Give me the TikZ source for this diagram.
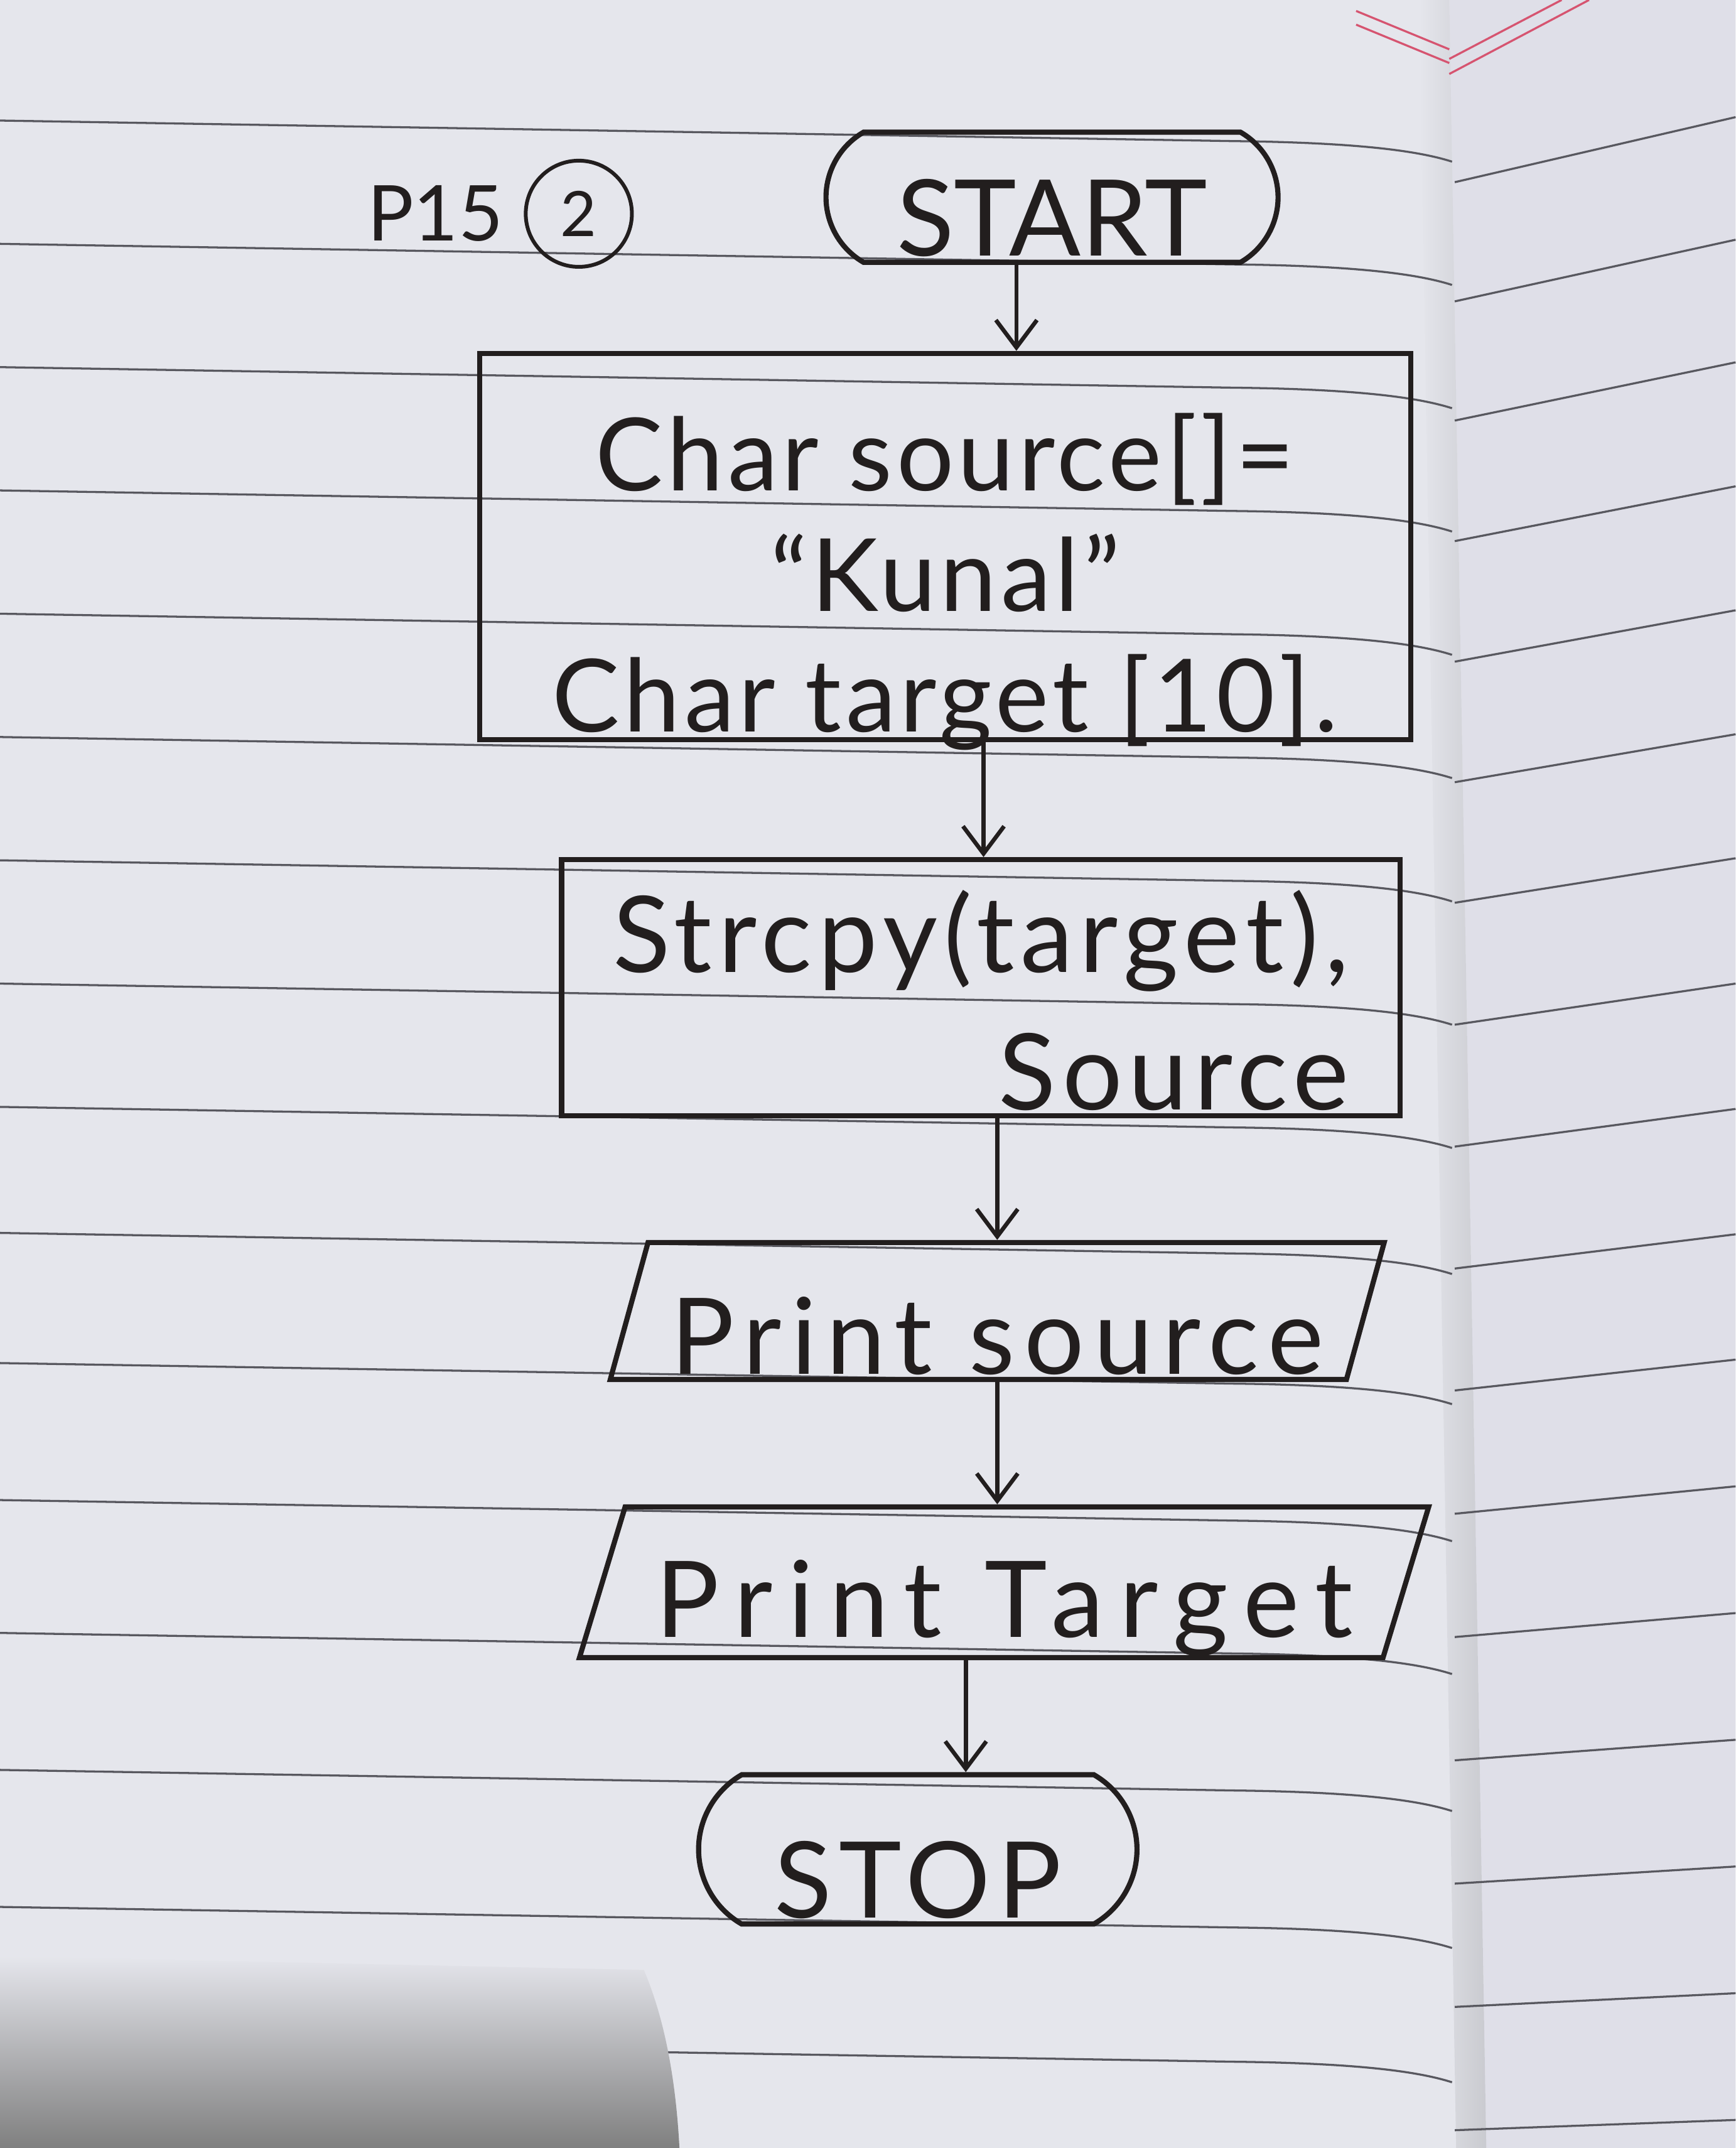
\documentclass[tikz,border=0pt]{standalone}
\usepackage{fontspec}
\setmainfont{Lato}
\usetikzlibrary{arrows.meta,shapes,positioning}
\definecolor{paper}{RGB}{229,230,236}
\definecolor{paperR}{RGB}{223,223,232}
\definecolor{rulegray}{RGB}{88,88,95}
\definecolor{ink}{RGB}{34,30,30}
\definecolor{marginred}{RGB}{214,84,112}
\newcommand{\handfont}[2]{\fontsize{#1}{50}\selectfont\addfontfeatures{LetterSpace=#2}}
\tikzset{
  pen/.style={draw=ink, line width=0.75mm, text=ink},
  term/.style={pen, rounded rectangle, rounded rectangle arc length=120, inner sep=0.5mm,
    font=\handfont{44}{0}},
  proc/.style={pen, rectangle, inner sep=0.5mm, align=center, font=\handfont{42}{4}},
  io/.style={pen, trapezium, trapezium left angle=75, trapezium right angle=105,
    trapezium stretches=true, inner sep=0.5mm, font=\handfont{44}{9}},
  flow/.style={draw=ink, line width=0.6mm, -{Straight Barb[length=4mm,width=6mm]}},
  ruled/.style={draw=rulegray, line width=0.3mm},
  redline/.style={draw=marginred, line width=0.3mm}
}

\begin{document}
\begin{tikzpicture}[x=0.2mm, y=-0.2mm]
    \useasboundingbox (0,0) rectangle (1267,1568);
    \fill[paper] (0,0) rectangle (1267,1568);
    \fill[paperR] (1058,0) -- (1267,0) -- (1267,1568) -- (1085,1568) -- cycle;
    \shade[left color=paper, right color=black!12!paper] (1036,0) -- (1058,0) -- (1085,1568) -- (1063,1568) -- cycle;
    \foreach \y in {88,178,268,358,448,538,628,718,808,900,995,1095,1192,1292,1392,1490}
      \draw[ruled] (0,\y) -- (900,\y+15) .. controls (990,\y+16) and (1035,\y+22) .. (1060,\y+30);
    \foreach \y [count=\i] in {133,220,307,395,483,571,659,748,837,926,1015,1105,1195,1285,1375,1465,1555}
      \draw[ruled] (1062,\y) -- (1267,\y-50+2.5*\i);
    \draw[redline] (990,8) -- (1058,36);
    \draw[redline] (990,18) -- (1058,46);
    \draw[redline] (1058,43) -- (1140,0);
    \draw[redline] (1058,54) -- (1160,0);
    \shade[top color=paper, middle color=black!40, bottom color=black!50]
      (0,1428) -- (470,1438) .. controls (488,1480) and (494,1530) .. (496,1568) -- (0,1568) -- cycle;

    \node[text=ink, font=\handfont{32}{0}, anchor=base west] (pnum) at (262,176) {P15};
    \node[pen, circle, line width=0.55mm, minimum size=15.5mm, inner sep=0pt,
      font=\handfont{26}{0}] (pcirc) [right=1.8mm of pnum] {2};

    \node[term, minimum width=67mm, minimum height=19mm, text height=17.2mm, text depth=0pt]
      (start) at (768,144) {START};
    \node[proc, minimum width=136mm, minimum height=56.4mm, text height=54mm, text depth=0pt]
      (init) at (690,399) {Char source[]=\\“Kunal”\\Char target [10].};
    \node[proc, align=right, font=\handfont{44}{6}, minimum width=122.4mm, minimum height=37.4mm,
      text height=35.6mm, text depth=0pt]
      (copy) at (716,721) {Strcpy(target),\\[7pt]Source};
    \node[io, minimum width=113mm, minimum height=20mm, text height=18.4mm, text depth=0pt]
      (outsrc) at (728,957) {Print source};
    \node[io, font=\handfont{44}{15}, trapezium left angle=70, trapezium right angle=110,
      minimum width=124mm, minimum height=22mm, text height=16mm, text depth=0pt]
      (outtgt) at (733,1155) {Print Target};
    \node[term, font=\handfont{44}{7}, minimum width=65mm, minimum height=21.8mm,
      text height=20mm, text depth=0pt]
      (stop) at (670,1350) {STOP};

    \draw[flow] ([xshift=-5.2mm]start.south) -- ([xshift=-5.2mm]start.south |- init.north);
    \draw[flow] ([xshift=5.6mm]init.south) -- ([xshift=5.6mm]init.south |- copy.north);
    \draw[flow] ([xshift=2.4mm]copy.south) -- ([xshift=2.4mm]copy.south |- outsrc.north);
    \draw[flow] (outsrc.south) -- (outsrc.south |- outtgt.north);
    \draw[flow] ([xshift=-5.6mm]outtgt.south) -- ([xshift=-5.6mm]outtgt.south |- stop.north);
\end{tikzpicture}
\end{document}
